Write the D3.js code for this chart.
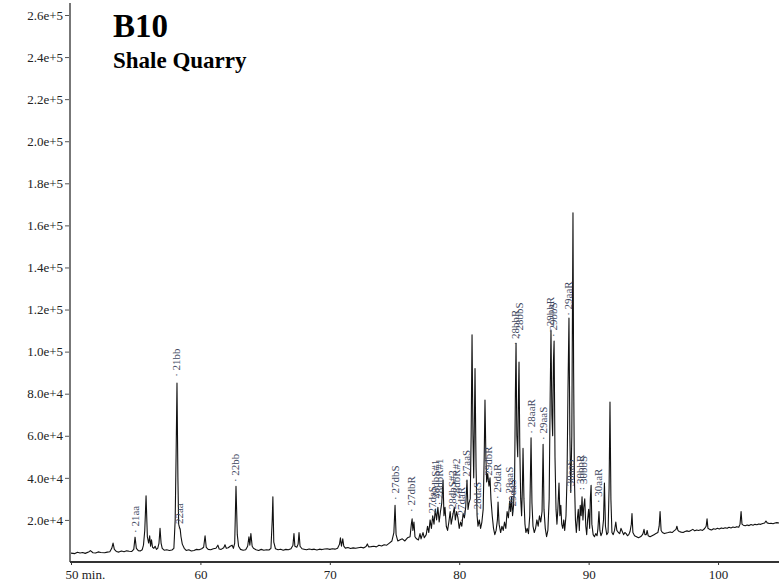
<!DOCTYPE html>
<html>
<head>
<meta charset="utf-8">
<script src="https://cdn.jsdelivr.net/npm/d3@7"></script>
<style>
  body { margin: 0; background: #fff; }
</style>
</head>
<body>
<div class="chart"></div>
<script>
// retention time (min) vs. abundance
const trace = [
  [50.0,4200],[50.3,4000],[50.5,4600],[50.7,4300],[50.9,4500],[51.1,4100],[51.4,4900],[51.5,5400],[51.7,4400],[51.9,4300],
  [52.1,4800],[52.3,4500],[52.6,4400],[52.8,4700],[53.0,4900],[53.15,6500],[53.25,9000],[53.35,6000],[53.5,5000],[53.7,4700],
  [53.9,5200],[54.1,4900],[54.3,5300],[54.5,5100],[54.7,5000],[54.85,6000],[54.95,11800],[55.05,6500],[55.2,5400],[55.35,5200],
  [55.5,5800],[55.6,8000],[55.7,15000],[55.8,31500],[55.9,12000],[56.0,9000],[56.08,12500],[56.15,7500],[56.22,10500],[56.3,7000],
  [56.4,6500],[56.5,7500],[56.6,6000],[56.7,6500],[56.8,9000],[56.88,16000],[56.96,9000],[57.05,6500],[57.2,5600],[57.4,5800],
  [57.6,5500],[57.8,5700],[57.95,6500],[58.05,20000],[58.12,50000],[58.19,85000],[58.26,40000],[58.32,18000],[58.38,16500],[58.44,15500],
  [58.5,12000],[58.6,8500],[58.75,6500],[58.9,5500],[59.1,5800],[59.3,5200],[59.5,5500],[59.7,6000],[59.9,5800],[60.1,6300],
  [60.25,7000],[60.36,12500],[60.45,7000],[60.6,6000],[60.8,5800],[61.0,6300],[61.2,6500],[61.35,8000],[61.45,6200],[61.6,6000],
  [61.8,6800],[61.9,8200],[62.0,6500],[62.15,6800],[62.3,7500],[62.45,8000],[62.55,6500],[62.65,9000],[62.75,36000],[62.85,13000],
  [62.95,7500],[63.1,6000],[63.3,5600],[63.5,5800],[63.65,7500],[63.75,12000],[63.82,8000],[63.9,13500],[64.0,7500],[64.1,6500],
  [64.3,5800],[64.5,5500],[64.7,6000],[64.9,5600],[65.1,5800],[65.3,5700],[65.45,6500],[65.55,20000],[65.6,31000],[65.67,9500],
  [65.8,6300],[66.0,5800],[66.2,6100],[66.4,5600],[66.6,6000],[66.8,5800],[67.0,6300],[67.15,8000],[67.23,13500],[67.3,7500],
  [67.45,7000],[67.55,8500],[67.62,14000],[67.7,7500],[67.85,6300],[68.0,6100],[68.2,5800],[68.4,6200],[68.6,5900],[68.8,6100],
  [69.0,5700],[69.2,6100],[69.4,5900],[69.6,6200],[69.8,6300],[70.0,6000],[70.2,6300],[70.4,6100],[70.6,6500],[70.75,8500],
  [70.82,11500],[70.9,7500],[71.0,11000],[71.08,7500],[71.2,6600],[71.4,6900],[71.6,6400],[71.8,6700],[72.0,6500],[72.2,6800],
  [72.4,7000],[72.6,6700],[72.8,7400],[72.9,8600],[73.0,7200],[73.2,7300],[73.4,7500],[73.6,7200],[73.8,8000],[74.0,7600],
  [74.2,8200],[74.4,8000],[74.6,9000],[74.8,10000],[74.95,14000],[75.04,27000],[75.12,13000],[75.25,10000],[75.4,10500],[75.6,11000],
  [75.8,10000],[76.0,11500],[76.2,12000],[76.3,18000],[76.36,20500],[76.42,15000],[76.5,19000],[76.58,12000],[76.7,11000],[76.85,10500],
  [76.97,13500],[77.05,11000],[77.2,14000],[77.3,11500],[77.45,13000],[77.55,17000],[77.65,14000],[77.75,20000],[77.85,16000],[77.95,22000],
  [78.05,18000],[78.15,25000],[78.25,20000],[78.35,26000],[78.45,19000],[78.55,24000],[78.65,28000],[78.75,39000],[78.82,22000],[78.9,26000],
  [79.0,17000],[79.1,15000],[79.2,19000],[79.3,24000],[79.38,18000],[79.5,22000],[79.62,26000],[79.7,20000],[79.8,24000],[79.9,21000],
  [80.0,16000],[80.1,19000],[80.2,17000],[80.3,23000],[80.4,21000],[80.5,26000],[80.6,39000],[80.68,25000],[80.75,28000],[80.85,30000],
  [80.92,60000],[80.99,108000],[81.06,60000],[81.12,40000],[81.22,92000],[81.3,45000],[81.38,22000],[81.45,17000],[81.55,20000],[81.65,16000],
  [81.75,19000],[81.85,25000],[81.93,50000],[81.99,77000],[82.06,50000],[82.12,38000],[82.2,42000],[82.3,36000],[82.38,40000],[82.45,30000],
  [82.55,22000],[82.65,16000],[82.75,13000],[82.85,15000],[82.95,20000],[83.0,28500],[83.08,18000],[83.2,14000],[83.3,17000],[83.4,15000],
  [83.5,19000],[83.6,16000],[83.7,24000],[83.8,21000],[83.9,29000],[83.97,24000],[84.05,31000],[84.12,22000],[84.2,27000],[84.28,40000],
  [84.34,80000],[84.39,104000],[84.45,60000],[84.52,50000],[84.58,80000],[84.62,95000],[84.68,55000],[84.75,30000],[84.82,22000],[84.88,35000],
  [84.93,54000],[85.0,30000],[85.08,18000],[85.15,14000],[85.25,16000],[85.35,13500],[85.45,22000],[85.55,59000],[85.62,28000],[85.7,17000],
  [85.8,14000],[85.9,16000],[86.0,20000],[86.1,17000],[86.2,22000],[86.3,19000],[86.4,24000],[86.48,56000],[86.55,25000],[86.65,16000],
  [86.75,12000],[86.85,15000],[86.95,30000],[87.03,80000],[87.09,110000],[87.16,70000],[87.22,60000],[87.28,95000],[87.33,105000],[87.4,50000],
  [87.48,25000],[87.55,18000],[87.62,25000],[87.71,37500],[87.78,22000],[87.85,27000],[87.92,18000],[88.0,16000],[88.08,20000],[88.15,15000],
  [88.25,22000],[88.33,40000],[88.4,80000],[88.48,116000],[88.55,60000],[88.62,33000],[88.7,60000],[88.75,120000],[88.79,166000],[88.84,90000],
  [88.9,40000],[88.98,20000],[89.05,14000],[89.12,20000],[89.2,25000],[89.28,15000],[89.35,27000],[89.42,22000],[89.49,31000],[89.56,20000],
  [89.62,26000],[89.7,30000],[89.78,17000],[89.85,13000],[89.92,20000],[90.0,25000],[90.08,16000],[90.13,30000],[90.19,36500],[90.25,18000],
  [90.35,13000],[90.45,12000],[90.55,13500],[90.65,12500],[90.72,16000],[90.8,24000],[90.87,15000],[90.95,12500],[91.05,14000],[91.15,20000],
  [91.22,37500],[91.3,17000],[91.4,13000],[91.5,14000],[91.58,35000],[91.65,76000],[91.72,30000],[91.8,14000],[91.9,13000],[92.0,15000],
  [92.1,19000],[92.18,15000],[92.3,14000],[92.4,13500],[92.5,16000],[92.6,14500],[92.7,13000],[92.8,14000],[92.9,13500],[93.0,12500],
  [93.1,13000],[93.2,14500],[93.3,18000],[93.35,23000],[93.42,14000],[93.55,12500],[93.7,12000],[93.85,11500],[94.0,12000],[94.1,12500],
  [94.2,13500],[94.28,15500],[94.35,13000],[94.45,13000],[94.52,15000],[94.6,12500],[94.75,12000],[94.9,12500],[95.05,13000],[95.2,13500],
  [95.35,14000],[95.45,17000],[95.52,24000],[95.6,15000],[95.7,14000],[95.85,13500],[96.0,13800],[96.15,14000],[96.3,14300],[96.45,14000],
  [96.6,14800],[96.75,15500],[96.82,17000],[96.9,15000],[97.0,14500],[97.15,14200],[97.3,14000],[97.45,14500],[97.6,14800],[97.75,14500],
  [97.9,15000],[98.05,15500],[98.2,14800],[98.35,15200],[98.5,15000],[98.65,15300],[98.8,15000],[98.95,15800],[99.08,17000],[99.15,20500],
  [99.22,16000],[99.35,15500],[99.5,15200],[99.65,15800],[99.8,15600],[99.95,16000],[100.1,15700],[100.25,16200],[100.4,15900],[100.55,16300],
  [100.7,16000],[100.85,16500],[101.0,16200],[101.15,16600],[101.3,16400],[101.45,16800],[101.6,16500],[101.7,18000],[101.78,24000],[101.85,18000],
  [101.95,17500],[102.1,17200],[102.25,17600],[102.4,17300],[102.55,17800],[102.7,17500],[102.85,17900],[103.0,17700],[103.15,18100],[103.3,17900],
  [103.45,18300],[103.6,18500],[103.7,19500],[103.8,18600],[103.95,18300],[104.1,18400],[104.25,18200],[104.4,18500],[104.55,18700],[104.71,18500]
];

// peak labels: name, retention time, label anchor height
const peakNames  = ["21aa","21bb","22aa","22bb","27dbS","27dbR","27daS","28dbS#1","28dbR#1","28dbS#2","28dbR#2","27daR",
                    "27aaS","28daS","29dbR","29daR","28aaS","29daS","28bbR","28bbS","28aaR","29aaS","29bbR","29bbS",
                    "29aaR","30aaS","30bbR","30bbS","30aaR"];
const peakTimes  = [54.95,58.19,58.42,62.75,75.04,76.35,77.9,78.2,78.5,79.45,79.8,80.15,
                    80.6,81.38,82.3,82.95,83.85,84.15,84.33,84.62,85.55,86.48,87.05,87.28,
                    88.48,88.56,89.35,89.57,90.8];
const peakLabelY = [13800,88000,15000,38000,29500,23800,20000,27000,27000,22000,27000,19000,
                    37500,22000,38000,30000,29500,23300,103000,107000,61000,58000,109000,107000,
                    117000,33000,34000,34000,28000];

const yTicks = [20000,40000,60000,80000,100000,120000,140000,160000,180000,200000,220000,240000,260000];
const xTicks = [50,60,70,80,90,100];

const w = 779, h = 587;
const serif = "'Liberation Serif', 'Times New Roman', Times, serif";

const svg = d3.select(".chart").append("svg")
  .attr("width", w).attr("height", h)
  .style("display", "block");

const x = d3.scaleLinear().domain([50, 104.71]).range([71, 779]);
const y = d3.scaleLinear().domain([0, 260000]).range([562, 15]);

// trace
const line = d3.line().x(d => x(d[0])).y(d => y(d[1]));
svg.append("path")
  .datum(trace)
  .attr("d", line)
  .attr("fill", "none")
  .attr("stroke", "#111")
  .attr("stroke-width", 1.1)
  .attr("stroke-linejoin", "round");

// y axis
const yAxis = svg.append("g")
  .attr("transform", "translate(70,0)")
  .call(d3.axisLeft(y).tickValues(yTicks).tickFormat(d3.format(".1e")).tickSize(5).tickSizeOuter(0));
yAxis.select(".domain").remove();
yAxis.append("line")
  .attr("x1", 0).attr("x2", 0).attr("y1", 3).attr("y2", 562)
  .attr("stroke", "#777").attr("stroke-width", 2);
yAxis.selectAll(".tick line").attr("stroke", "#555");
yAxis.selectAll(".tick text")
  .attr("x", -7)
  .attr("fill", "#222")
  .style("font-family", serif)
  .style("font-size", "13px");

// x axis
const xAxis = svg.append("g")
  .attr("transform", "translate(0,562)")
  .call(d3.axisBottom(x).tickValues(xTicks).tickFormat(d => d === 50 ? "50 min." : d).tickSize(3).tickSizeOuter(0));
xAxis.select(".domain").remove();
xAxis.append("line")
  .attr("x1", 70).attr("x2", 779).attr("y1", 0).attr("y2", 0)
  .attr("stroke", "#333").attr("stroke-width", 2);
xAxis.selectAll(".tick line").attr("stroke", "#333");
xAxis.selectAll(".tick text")
  .attr("y", 8)
  .attr("fill", "#222")
  .style("font-family", serif)
  .style("font-size", "13px");
xAxis.selectAll(".tick text").filter(d => d === 50)
  .attr("text-anchor", "start")
  .attr("dx", -6);

// peak labels, vertical
svg.append("g").selectAll("text")
  .data(peakNames)
  .enter()
  .append("text")
  .attr("transform", (d, i) => "translate(" + (x(peakTimes[i]) + 3.5) + "," + y(peakLabelY[i]) + ") rotate(-90)")
  .attr("fill", "#3e475e")
  .style("font-family", serif)
  .style("font-size", "11px")
  .text(d => "\u00B7 " + d);

// title
svg.append("text")
  .attr("x", 113).attr("y", 37)
  .style("font-family", serif)
  .style("font-size", "33px")
  .style("font-weight", "bold")
  .text("B10");
svg.append("text")
  .attr("x", 113).attr("y", 68)
  .style("font-family", serif)
  .style("font-size", "23px")
  .style("font-weight", "bold")
  .text("Shale Quarry");
</script>
</body>
</html>
